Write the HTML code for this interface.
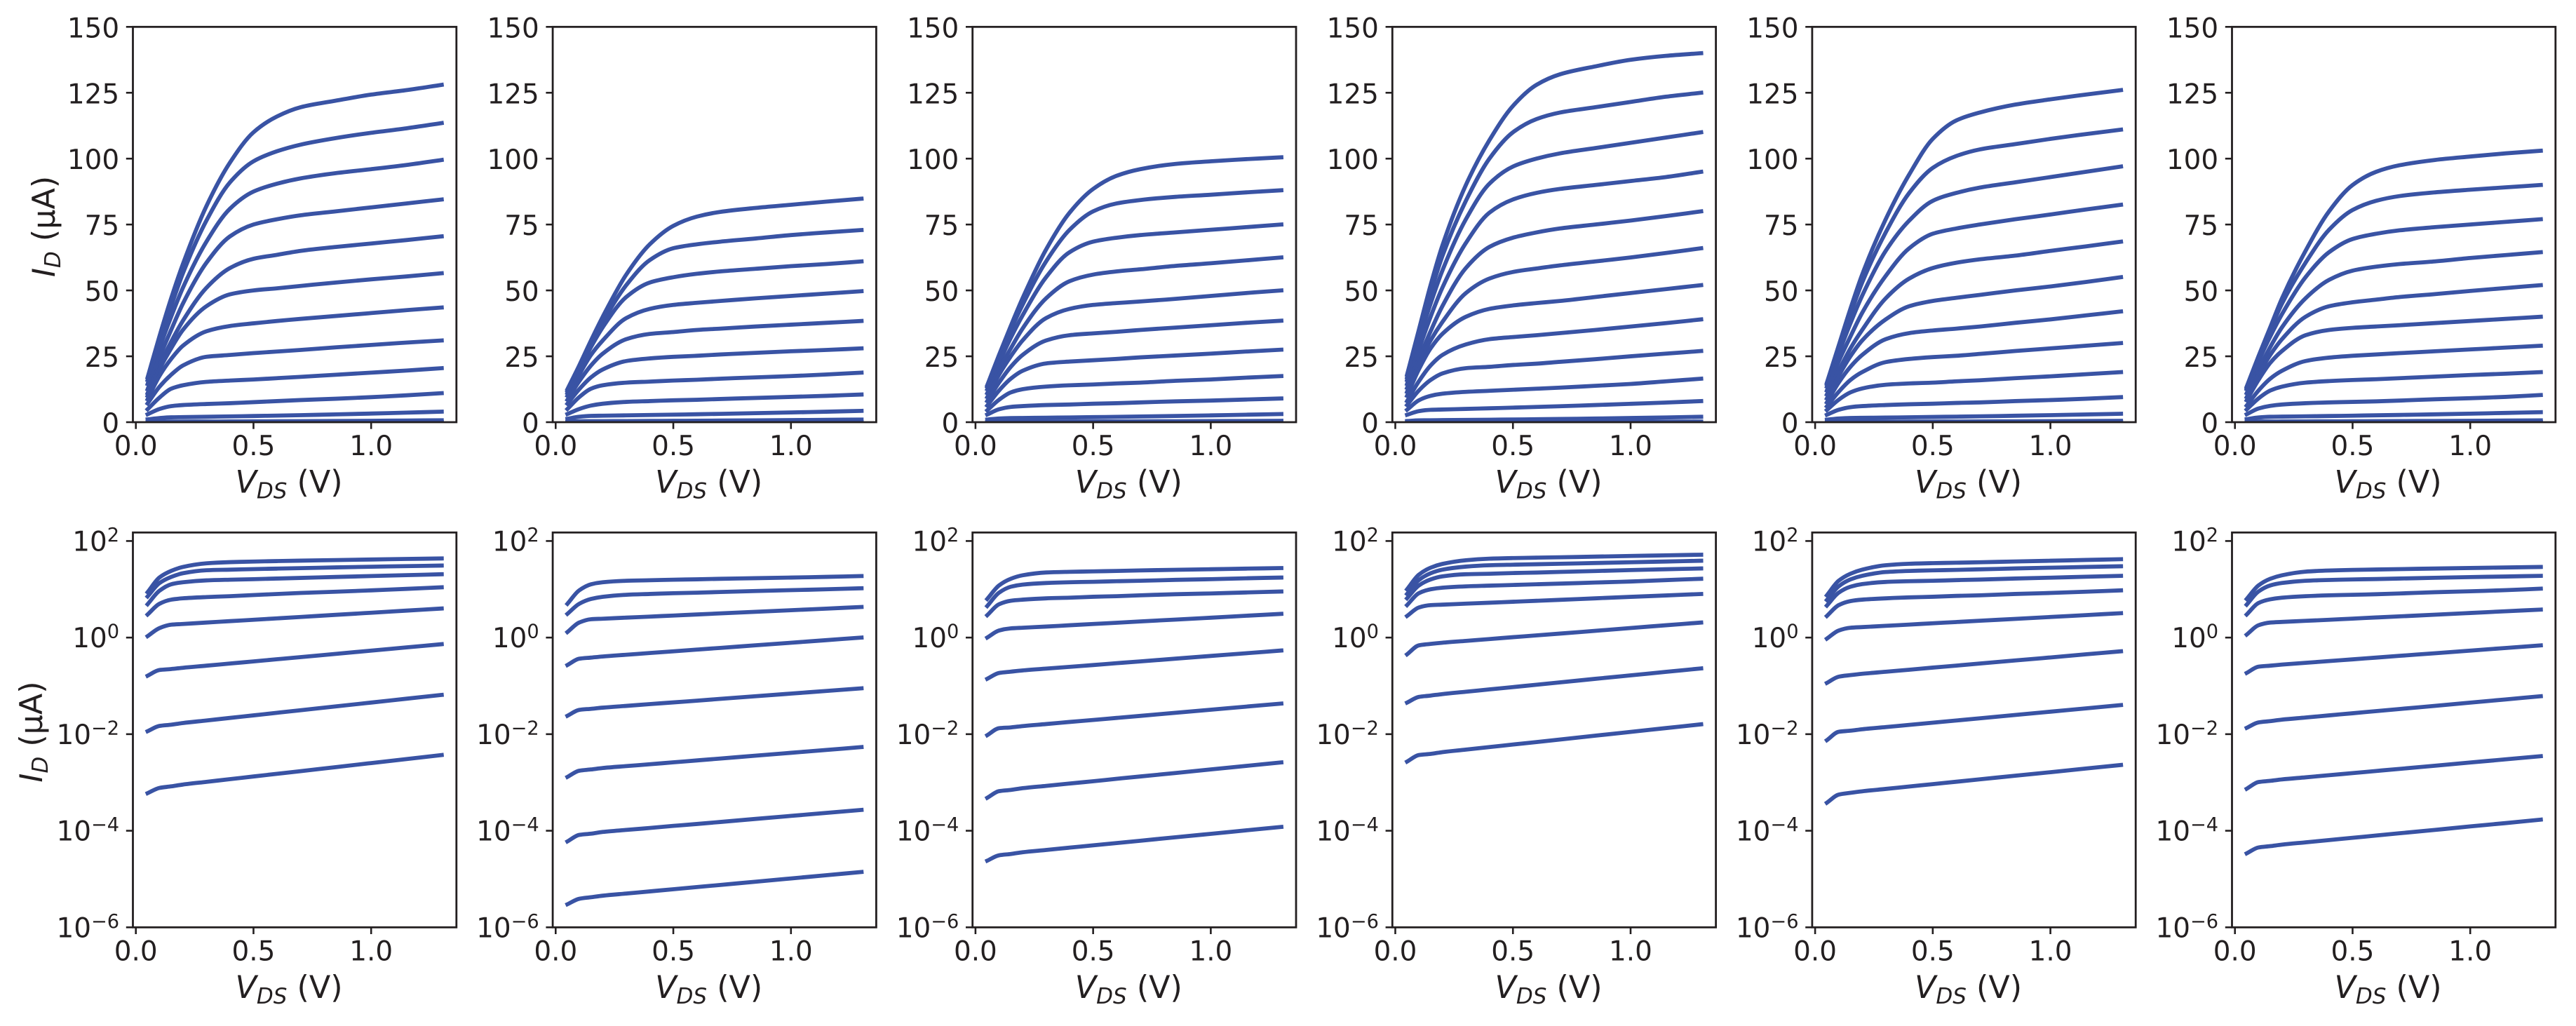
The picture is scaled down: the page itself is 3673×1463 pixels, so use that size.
<!DOCTYPE html>
<html lang="en">
<head>
<meta charset="utf-8">
<title>Transistor output characteristics</title>
<style>
  html, body { margin: 0; padding: 0; background: #ffffff; }
  svg { display: block; }
  text { font-family: "DejaVu Sans", "Liberation Sans", sans-serif; fill: #231f20; }
  .axis-label { font-size: 44.4px; }
  .axis-label .sym { font-style: italic; }
  .axis-label .sub { font-style: italic; font-size: 31px; }
</style>
</head>
<body>
<svg id="figure" xmlns="http://www.w3.org/2000/svg" width="3673" height="1463" viewBox="0 0 3673 1463">
  <rect x="0" y="0" width="3673" height="1463" fill="#ffffff"/>
  <g id="plots"></g>

  <text class="axis-label" transform="translate(78 323) rotate(-90)" text-anchor="middle"><tspan class="sym">I</tspan><tspan class="sub" dy="8">D</tspan><tspan dy="-8"> (μA)</tspan></text>
  <text class="axis-label" transform="translate(60 1043.6) rotate(-90)" text-anchor="middle"><tspan class="sym">I</tspan><tspan class="sub" dy="8">D</tspan><tspan dy="-8"> (μA)</tspan></text>

  <text class="axis-label" x="412" y="702.5" text-anchor="middle"><tspan class="sym">V</tspan><tspan class="sub" dy="8">DS</tspan><tspan dy="-8"> (V)</tspan></text>
  <text class="axis-label" x="1010.7" y="702.5" text-anchor="middle"><tspan class="sym">V</tspan><tspan class="sub" dy="8">DS</tspan><tspan dy="-8"> (V)</tspan></text>
  <text class="axis-label" x="1609.3" y="702.5" text-anchor="middle"><tspan class="sym">V</tspan><tspan class="sub" dy="8">DS</tspan><tspan dy="-8"> (V)</tspan></text>
  <text class="axis-label" x="2208" y="702.5" text-anchor="middle"><tspan class="sym">V</tspan><tspan class="sub" dy="8">DS</tspan><tspan dy="-8"> (V)</tspan></text>
  <text class="axis-label" x="2806.5" y="702.5" text-anchor="middle"><tspan class="sym">V</tspan><tspan class="sub" dy="8">DS</tspan><tspan dy="-8"> (V)</tspan></text>
  <text class="axis-label" x="3405" y="702.5" text-anchor="middle"><tspan class="sym">V</tspan><tspan class="sub" dy="8">DS</tspan><tspan dy="-8"> (V)</tspan></text>

  <text class="axis-label" x="412" y="1423" text-anchor="middle"><tspan class="sym">V</tspan><tspan class="sub" dy="8">DS</tspan><tspan dy="-8"> (V)</tspan></text>
  <text class="axis-label" x="1010.7" y="1423" text-anchor="middle"><tspan class="sym">V</tspan><tspan class="sub" dy="8">DS</tspan><tspan dy="-8"> (V)</tspan></text>
  <text class="axis-label" x="1609.3" y="1423" text-anchor="middle"><tspan class="sym">V</tspan><tspan class="sub" dy="8">DS</tspan><tspan dy="-8"> (V)</tspan></text>
  <text class="axis-label" x="2208" y="1423" text-anchor="middle"><tspan class="sym">V</tspan><tspan class="sub" dy="8">DS</tspan><tspan dy="-8"> (V)</tspan></text>
  <text class="axis-label" x="2806.5" y="1423" text-anchor="middle"><tspan class="sym">V</tspan><tspan class="sub" dy="8">DS</tspan><tspan dy="-8"> (V)</tspan></text>
  <text class="axis-label" x="3405" y="1423" text-anchor="middle"><tspan class="sym">V</tspan><tspan class="sub" dy="8">DS</tspan><tspan dy="-8"> (V)</tspan></text>
</svg>

<script>
// ---- Chart data (drain current in µA, one row per gate-voltage step) ----
const vds = [0.05, 0.1, 0.15, 0.2, 0.3, 0.4, 0.5, 0.6, 0.7, 0.85, 1.0, 1.15, 1.3];

const xTickValues = [0, 0.5, 1];
const xTickLabels = ['0.0', '0.5', '1.0'];
const linTickValues = [0, 25, 50, 75, 100, 125, 150];
const linTickLabels = ['0', '25', '50', '75', '100', '125', '150'];
const logTickExponents = [2, 0, -2, -4, -6];
const logTickLabels = ['2', '0', '−2', '−4', '−6'];

const currentsDevice1 = [
  [17,32.5,47,60,82,98.5,110,116,119.5,122,124.3,126,128],
  [16,30.5,44,56.5,76.5,91,99,102.8,105.3,107.8,109.8,111.5,113.5],
  [14.5,28,40,51,68.5,81,87.5,90.5,92.5,94.5,96,97.6,99.5],
  [12.5,24.5,35,45,60.5,70.5,75,77,78.5,80,81.5,83,84.5],
  [11,21.5,30.5,38.5,51,58.5,62,63.5,65,66.5,67.8,69.1,70.5],
  [10,20,28,35,44,48.5,50,50.8,51.7,53,54.2,55.3,56.5],
  [8.7,17.5,24,29,34.5,36.5,37.5,38.4,39.2,40.3,41.4,42.5,43.5],
  [7.1,13.4,18,21.5,24.8,25.5,26.2,26.8,27.4,28.4,29.3,30.2,31],
  [4.9,9.3,12.7,14,15.3,15.8,16.2,16.7,17.2,18,18.8,19.6,20.5],
  [3,5,6.1,6.5,6.9,7.2,7.6,8,8.4,8.9,9.5,10.2,11],
  [1.07,1.57,1.85,1.91,2.05,2.19,2.34,2.5,2.67,2.96,3.27,3.62,4],
  [0.162,0.213,0.223,0.237,0.262,0.29,0.321,0.356,0.394,0.46,0.537,0.626,0.73],
  [0.0115,0.0148,0.0157,0.017,0.0192,0.0217,0.0245,0.0277,0.0313,0.0376,0.0451,0.0542,0.065],
  [0.0006,0.00077,0.00083,0.000905,0.00103,0.00117,0.00133,0.00151,0.00171,0.00208,0.00252,0.00305,0.0037]
];

const currentsDevice2 = [
  [12.5,21.5,31,40,56,67.5,74.5,78,79.8,81.3,82.5,83.7,84.8],
  [11.8,20.5,29.5,38,52,61.5,66,67.5,68.5,69.7,71,72,72.9],
  [11,20,28.5,36,47.5,53,55,56.3,57.2,58.2,59.2,60,61],
  [10,18,25.5,31,39.5,43,44.5,45.3,46,47,47.9,48.8,49.7],
  [8.5,15.5,21.5,26,31.5,33.5,34.2,35,35.5,36.3,37,37.7,38.4],
  [7,12.5,17,20,23.2,24.2,24.8,25.2,25.7,26.3,26.9,27.4,28],
  [5,9.5,12.7,14,15,15.4,15.8,16.1,16.5,17,17.5,18.1,18.8],
  [3.1,5,6.3,7,7.7,8,8.3,8.5,8.8,9.2,9.6,10,10.5],
  [1.3,2.05,2.4,2.46,2.59,2.72,2.86,3.01,3.17,3.42,3.69,3.98,4.3],
  [0.27,0.365,0.385,0.406,0.441,0.479,0.519,0.564,0.612,0.692,0.782,0.885,1],
  [0.024,0.0318,0.0335,0.0354,0.0385,0.0419,0.0455,0.0494,0.0538,0.0611,0.0692,0.0785,0.089],
  [0.0013,0.00175,0.00186,0.00199,0.00218,0.00238,0.00261,0.00286,0.00313,0.00359,0.00411,0.00471,0.0054],
  [0.00006,0.000082,0.000087,0.0000944,0.000104,0.000114,0.000126,0.000138,0.000152,0.000176,0.000203,0.000234,0.00027],
  [0.000003,0.0000039,0.0000042,0.00000452,0.00000501,0.00000555,0.00000615,0.00000682,0.00000755,0.00000881,0.00001028,0.000012,0.000014]
];

const currentsDevice3 = [
  [14,25.5,36.5,47,65.5,79.5,88.5,93.5,96,98,99,99.8,100.5],
  [13.5,24.5,35,44.5,61,73,80,83,84.3,85.5,86.3,87.2,88],
  [12.5,22.5,32,40.5,55,64.5,68.5,70,71,72,73,74,75],
  [11,20,28,35.5,47,53.5,56,57.2,58,59.3,60.3,61.4,62.5],
  [9.5,18,25,31,39.5,43,44.5,45.2,45.8,46.8,47.9,49,50],
  [8,15,21,25.5,31,33,33.7,34.3,35,35.9,36.8,37.7,38.5],
  [6.3,12,16.5,19.5,22.3,23,23.5,24,24.6,25.3,26,26.8,27.5],
  [4.5,8.5,11.3,12.5,13.5,14,14.3,14.7,15,15.7,16.2,16.9,17.5],
  [2.9,4.9,5.8,6.1,6.5,6.7,7,7.2,7.5,7.9,8.2,8.6,9],
  [1,1.4,1.55,1.6,1.69,1.8,1.91,2.03,2.16,2.36,2.58,2.83,3.1],
  [0.14,0.185,0.197,0.209,0.228,0.248,0.27,0.295,0.321,0.366,0.417,0.474,0.54],
  [0.0095,0.0133,0.0138,0.0147,0.0162,0.0179,0.0197,0.0217,0.0239,0.0277,0.0321,0.0372,0.043],
  [0.00048,0.00066,0.0007,0.00076,0.00085,0.00095,0.00106,0.00119,0.00133,0.00157,0.00186,0.0022,0.0026],
  [0.000024,0.000031,0.000033,0.0000359,0.00004,0.0000447,0.0000499,0.0000556,0.0000621,0.0000733,0.0000863,0.000102,0.00012]
];

const currentsDevice4 = [
  [18,35,52,67,90,107,120,128,132,135,137.5,139,140],
  [17,33,49,63,84,100,110,115,117.5,119.5,121.5,123.5,125],
  [16,31,45,57.5,77,90.5,97,100,102,104,106,108,110],
  [14.5,27.5,40,51,68,79.5,84.5,87,88.5,90,91.5,93,95],
  [13,24,34.5,44,58.5,66.5,70,72,73.5,75,76.5,78.2,80],
  [11.5,22,31,38,49,54.5,57,58.3,59.5,61,62.5,64.2,66],
  [10,20,28,33.5,40,43,44.3,45.2,46,47.5,49,50.5,52],
  [8,15.5,21.5,25.5,29.5,31.5,32.3,33,33.8,35,36.3,37.6,39],
  [6.5,12,16,18.5,20.5,21,21.7,22.2,22.9,23.9,25,26,27],
  [4.7,8.3,10,10.8,11.5,11.9,12.3,12.7,13.1,13.8,14.5,15.5,16.5],
  [2.8,4.2,4.7,4.81,5.04,5.27,5.52,5.78,6.05,6.5,6.97,7.46,8],
  [0.45,0.69,0.74,0.783,0.855,0.933,1.02,1.11,1.21,1.38,1.58,1.8,2.05],
  [0.045,0.059,0.063,0.0676,0.0755,0.0845,0.0944,0.1055,0.118,0.14,0.165,0.195,0.23],
  [0.0027,0.0037,0.0039,0.00425,0.00479,0.00541,0.0061,0.00687,0.00776,0.00931,0.01114,0.01337,0.016]
];

const currentsDevice5 = [
  [15,29,43,56,77,94,107.5,114.5,117.5,120.5,122.5,124.3,126],
  [14.5,28,41,53,72,87,96.5,101,103.5,105.5,107.5,109.3,111],
  [13.5,26,37.5,48,65,76.5,84,87,89,91,93,95,97],
  [12,23,32.5,41.5,55.5,66,71.5,73.5,75,77,78.8,80.7,82.5],
  [10.5,19.5,28,35,47,54.5,58.5,60.5,61.8,63.2,65,66.7,68.5],
  [9,17.5,25,31,39,44,46,47.2,48.3,50,51.5,53.2,55],
  [7.5,15,21,25.5,31.5,33.8,34.8,35.5,36.3,37.7,39,40.5,42],
  [6,11.5,16,19,22.8,24,24.7,25.2,25.9,27,28,29,30],
  [4.6,8.5,11.3,12.8,14.2,14.7,15,15.5,15.9,16.7,17.4,18.2,19],
  [2.8,4.7,5.7,6.1,6.5,6.8,7,7.3,7.5,8,8.4,8.9,9.5],
  [0.95,1.4,1.6,1.65,1.75,1.86,1.98,2.1,2.23,2.44,2.67,2.92,3.2],
  [0.115,0.155,0.167,0.178,0.196,0.216,0.239,0.263,0.29,0.336,0.388,0.45,0.52],
  [0.0075,0.0112,0.0118,0.01265,0.01403,0.01556,0.0173,0.0192,0.0213,0.025,0.0292,0.0342,0.04],
  [0.00038,0.00056,0.00061,0.000656,0.000735,0.000824,0.000923,0.001035,0.00116,0.00138,0.00163,0.00194,0.0023]
];

const currentsDevice6 = [
  [13.5,25,36,47,65,80,90,95,97.5,99.5,100.8,102,103],
  [13,24.5,35,45,60.5,73,80.5,84,85.8,87.2,88.2,89.1,90],
  [12.5,23,32.5,41,55,64.5,69.5,71.5,72.8,74,75,76,77],
  [11,20,28.5,36,47,54,57.5,59,60,61,62.3,63.4,64.5],
  [9.5,18,25.5,31.5,40,44,45.5,46.5,47.5,48.6,49.8,50.9,52],
  [8.3,16,22.5,27,33,35,35.8,36.3,36.8,37.6,38.4,39.2,40],
  [6.3,12,16.5,19.5,23.2,24.5,25.2,25.7,26.2,26.9,27.6,28.3,29],
  [4.8,9,12,13.5,15,15.6,16,16.3,16.7,17.3,17.9,18.4,19],
  [3,5.2,6.2,6.7,7.2,7.5,7.7,7.9,8.2,8.7,9.1,9.6,10.3],
  [1.15,1.8,2.05,2.11,2.22,2.34,2.47,2.61,2.75,2.98,3.23,3.51,3.8],
  [0.185,0.25,0.262,0.276,0.3,0.326,0.354,0.385,0.419,0.474,0.537,0.609,0.69],
  [0.0135,0.0175,0.0186,0.02,0.0221,0.0245,0.0271,0.03,0.0332,0.0386,0.045,0.0524,0.061],
  [0.00074,0.00102,0.00108,0.001156,0.001276,0.001413,0.00156,0.00173,0.00191,0.00222,0.00259,0.00301,0.0035],
  [0.000034,0.000045,0.000048,0.0000516,0.0000575,0.0000641,0.0000714,0.0000796,0.0000887,0.000104,0.000123,0.000144,0.00017]
];

const devices = [currentsDevice1, currentsDevice2, currentsDevice3, currentsDevice4, currentsDevice5, currentsDevice6];
const logCurveCount = 8;

// ---- Rendering ----
const NS = 'http://www.w3.org/2000/svg';
const INK = '#231f20';
const CURVE = '#3953a4';
const plots = document.getElementById('plots');

const FIRST_LEFT = 189.5, PITCH = 598.6, AXIS_WIDTH = 461.3;
const LIN_TOP = 38.3, LIN_BOTTOM = 602;
const LOG_TOP = 759.3, LOG_BOTTOM = 1322.3;
const X_MIN = -0.0125, X_MAX = 1.3625;
const LIN_MAX = 150, LOG_MIN = -6, LOG_MAX = Math.log10(150);
const TICK = 9.7, PAD = 9.7;

function make(tag, attrs, parent) {
  const el = document.createElementNS(NS, tag);
  for (const k in attrs) el.setAttribute(k, attrs[k]);
  parent.appendChild(el);
  return el;
}

function xScale(v, left) {
  return left + (v - X_MIN) / (X_MAX - X_MIN) * AXIS_WIDTH;
}
function yLinear(v) {
  return LIN_BOTTOM - (v / LIN_MAX) * (LIN_BOTTOM - LIN_TOP);
}
function yLog(v) {
  return LOG_BOTTOM - (Math.log10(v) - LOG_MIN) / (LOG_MAX - LOG_MIN) * (LOG_BOTTOM - LOG_TOP);
}

// Monotone cubic path through scaled points, so knees stay round without overshoot.
function smoothPath(xs, ys) {
  const n = xs.length;
  const h = [], d = [], m = [];
  for (let i = 0; i < n - 1; i++) {
    h[i] = xs[i + 1] - xs[i];
    d[i] = (ys[i + 1] - ys[i]) / h[i];
  }
  m[0] = d[0];
  m[n - 1] = d[n - 2];
  for (let i = 1; i < n - 1; i++) {
    if (d[i - 1] * d[i] <= 0) {
      m[i] = 0;
    } else {
      const w1 = 2 * h[i] + h[i - 1];
      const w2 = h[i] + 2 * h[i - 1];
      m[i] = (w1 + w2) / (w1 / d[i - 1] + w2 / d[i]);
    }
  }
  let path = 'M' + xs[0].toFixed(2) + ' ' + ys[0].toFixed(2);
  for (let i = 0; i < n - 1; i++) {
    const c1x = xs[i] + h[i] / 3, c1y = ys[i] + m[i] * h[i] / 3;
    const c2x = xs[i + 1] - h[i] / 3, c2y = ys[i + 1] - m[i + 1] * h[i] / 3;
    path += ' C' + c1x.toFixed(2) + ' ' + c1y.toFixed(2) + ' ' + c2x.toFixed(2) + ' ' + c2y.toFixed(2) + ' ' + xs[i + 1].toFixed(2) + ' ' + ys[i + 1].toFixed(2);
  }
  return path;
}

function drawCurves(group, rows, left, yFn, clipId) {
  rows.forEach(function (row, r) {
    const xs = row.map(function (val, j) { return xScale(vds[j], left); });
    const ys = row.map(function (val) { return yFn(val); });
    const path = make('path', { d: smoothPath(xs, ys), fill: 'none', stroke: CURVE, 'stroke-width': 5.8, 'stroke-linecap': 'square', 'stroke-linejoin': 'round', 'clip-path': 'url(#' + clipId + ')' }, group);
    
    
  });
}

function drawFrame(group, left, top, bottom) {
  const frame = make('rect', { x: left, y: top, width: AXIS_WIDTH, height: bottom - top, fill: 'none', stroke: INK, 'stroke-width': 2.8 }, group);
  
  
}

function drawXTicks(group, left, bottom) {
  xTickValues.forEach(function (v, i) {
    const x = xScale(v, left);
    const tick = make('line', { x1: x, x2: x, y1: bottom, y2: bottom + TICK, stroke: INK, 'stroke-width': 2.6 }, group);
    
    
    const label = make('text', { x: x, y: bottom + 47, 'text-anchor': 'middle', 'font-size': 38.9 }, group);
    label.textContent = xTickLabels[i];
    
    
  });
}

function drawLinearYTicks(group, left) {
  linTickValues.forEach(function (v, i) {
    const y = yLinear(v);
    const tick = make('line', { x1: left - TICK, x2: left, y1: y, y2: y, stroke: INK, 'stroke-width': 2.6 }, group);
    
    
    const label = make('text', { x: left - TICK - PAD, y: y + 15, 'text-anchor': 'end', 'font-size': 38.9 }, group);
    label.textContent = linTickLabels[i];
    
    
  });
}

function drawLogYTicks(group, left) {
  logTickExponents.forEach(function (e, i) {
    const y = yLog(Math.pow(10, e));
    const tick = make('line', { x1: left - TICK, x2: left, y1: y, y2: y, stroke: INK, 'stroke-width': 2.6 }, group);
    
    
    const label = make('text', { x: left - TICK - PAD, y: y + 14, 'text-anchor': 'end', 'font-size': 38.9 }, group);
    
    
    label.appendChild(document.createTextNode('10'));
    const sup = make('tspan', { dy: -13.5, 'font-size': 27.2 }, label);
    sup.textContent = logTickLabels[i];
  });
}

const defs = make('defs', {}, plots);

devices.forEach(function (rows, p) {
  const left = FIRST_LEFT + p * PITCH;

  const linClip = 'clip-lin-' + p;
  const logClip = 'clip-log-' + p;
  const c1 = make('clipPath', { id: linClip }, defs);
  make('rect', { x: left, y: LIN_TOP, width: AXIS_WIDTH, height: LIN_BOTTOM - LIN_TOP }, c1);
  const c2 = make('clipPath', { id: logClip }, defs);
  make('rect', { x: left, y: LOG_TOP, width: AXIS_WIDTH, height: LOG_BOTTOM - LOG_TOP }, c2);

  const topGroup = make('g', {}, plots);
  
  
  drawCurves(topGroup, rows, left, yLinear, linClip);
  drawFrame(topGroup, left, LIN_TOP, LIN_BOTTOM);
  drawXTicks(topGroup, left, LIN_BOTTOM);
  drawLinearYTicks(topGroup, left);

  const bottomGroup = make('g', {}, plots);
  
  
  drawCurves(bottomGroup, rows.slice(-logCurveCount), left, yLog, logClip);
  drawFrame(bottomGroup, left, LOG_TOP, LOG_BOTTOM);
  drawXTicks(bottomGroup, left, LOG_BOTTOM);
  drawLogYTicks(bottomGroup, left);
});
</script>
</body>
</html>
